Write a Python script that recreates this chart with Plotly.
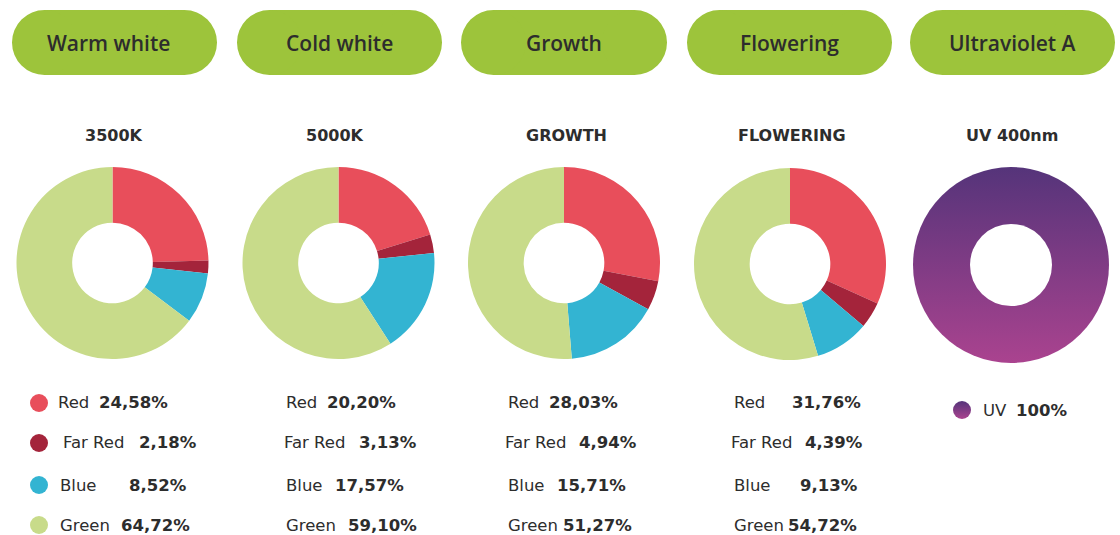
import plotly.graph_objects as go

# ---------------- data ----------------
headers = ["Warm white", "Cold white", "Growth", "Flowering", "Ultraviolet A"]
titles = ["3500K", "5000K", "GROWTH", "FLOWERING", "UV 400nm"]
bands = ["Red", "Far Red", "Blue", "Green"]
warm_white = [24.58, 2.18, 8.52, 64.72]
cold_white = [20.20, 3.13, 17.57, 59.10]
growth = [28.03, 4.94, 15.71, 51.27]
flowering = [31.76, 4.39, 9.13, 54.72]
uv_label = "UV"
uv_value = [100]

# ---------------- styles ----------------
W, H = 1120, 535
band_colors = ["#e84e5b", "#a4243b", "#33b4d2", "#c8db8a"]
uv_top, uv_bottom = "#55347a", "#aa438f"
pill_color = "#9dc43b"
txt = "#2d2d2d"
HEAD_FONT = "Open Sans"
TITLE_FONT = "DejaVu Sans"
LEG_FONT = "DejaVu Sans"

def px(x):
    return x / W

def py(y):
    return 1 - y / H

fig = go.Figure()

# pixel-coordinate axes spanning the whole canvas
fig.update_layout(
    xaxis=dict(range=[0, W], visible=False, fixedrange=True, domain=[0, 1]),
    yaxis=dict(range=[H, 0], visible=False, fixedrange=True, domain=[0, 1]),
)

# header pills
pill_x = [(12, 217), (237, 442), (461, 667), (687, 892), (910, 1115)]
pill_y0, pill_y1 = 10, 75
r = (pill_y1 - pill_y0) / 2
shapes = []
for (x0, x1) in pill_x:
    shapes.append(dict(type="rect", xref="x", yref="y", x0=x0 + r, x1=x1 - r,
                       y0=pill_y0, y1=pill_y1, fillcolor=pill_color,
                       line=dict(width=0), layer="below"))
    shapes.append(dict(type="circle", xref="x", yref="y", x0=x0, x1=x0 + 2 * r,
                       y0=pill_y0, y1=pill_y1, fillcolor=pill_color,
                       line=dict(width=0), layer="below"))
    shapes.append(dict(type="circle", xref="x", yref="y", x0=x1 - 2 * r, x1=x1,
                       y0=pill_y0, y1=pill_y1, fillcolor=pill_color,
                       line=dict(width=0), layer="below"))
fig.update_layout(shapes=shapes)

annotations = []
head_x = [108.5, 339.5, 564, 789.5, 1012.5]
for hx, lab in zip(head_x, headers):
    annotations.append(dict(x=hx, y=43, xref="x", yref="y", text=lab,
                            showarrow=False, xanchor="center", yanchor="middle",
                            font=dict(family=HEAD_FONT, size=21, color=txt, weight=600)))

# titles
title_x = [114, 335, 566, 792, 1012]
for tx, t in zip(title_x, titles):
    annotations.append(dict(x=tx, y=135, xref="x", yref="y", text=f"<b>{t}</b>",
                            showarrow=False, xanchor="center", yanchor="middle",
                            font=dict(family=TITLE_FONT, size=16, color=txt)))

# donuts
series = [warm_white, cold_white, growth, flowering]
centers = [(112.5, 263), (338.5, 263), (564, 263), (790, 264)]
R = 96
for vals, (cx, cy), name in zip(series, centers, titles):
    fig.add_trace(go.Pie(
        labels=bands, values=vals, sort=False, direction="clockwise", rotation=0,
        hole=0.42, marker=dict(colors=band_colors, line=dict(width=0)),
        textinfo="none", showlegend=False, name=name,
        domain=dict(x=[px(cx - R), px(cx + R)], y=[py(cy + R), py(cy - R)]),
    ))

# UV ring (100%) drawn as a vertically graded disc with a hole
uv_cx, uv_cy, uv_R, uv_r = 1011, 265, 98, 41
fig.add_trace(go.Scatter(
    x=[uv_cx], y=[uv_cy], mode="markers", showlegend=False, hoverinfo="skip",
    marker=dict(size=2 * uv_R, color=uv_top, line=dict(width=0),
                gradient=dict(type="vertical", color=uv_bottom)),
))
fig.add_trace(go.Scatter(
    x=[uv_cx], y=[uv_cy], mode="markers", showlegend=False, hoverinfo="skip",
    marker=dict(size=2 * uv_r, color="white", line=dict(width=0)),
    text=[f"{uv_label} {uv_value[0]}%"],
))

# legend rows
row_y = [402, 442, 485, 525]
label_x = [[56, 61, 58, 58], [284, 282, 284, 284], [506, 503, 506, 506], [732, 729, 732, 732]]
value_x = [[97, 137, 127, 119], [325, 357, 333, 346], [547, 577, 555, 561], [790, 803, 798, 786]]

def fmt(v):
    return f"{v:.2f}".replace(".", ",") + "%"

for ci, vals in enumerate(series):
    for ri, (b, v) in enumerate(zip(bands, vals)):
        annotations.append(dict(x=label_x[ci][ri], y=row_y[ri], xref="x", yref="y", text=b,
                                showarrow=False, xanchor="left", yanchor="middle",
                                font=dict(family=LEG_FONT, size=16.5, color=txt)))
        annotations.append(dict(x=value_x[ci][ri], y=row_y[ri], xref="x", yref="y",
                                text=f"<b>{fmt(v)}</b>",
                                showarrow=False, xanchor="left", yanchor="middle",
                                font=dict(family=LEG_FONT, size=16.5, color=txt)))

# legend dots for first column
fig.add_trace(go.Scatter(
    x=[39] * 4, y=[403, 443, 485, 525], mode="markers", showlegend=False, hoverinfo="skip",
    marker=dict(size=18, color=band_colors, line=dict(width=0)),
))
# UV legend dot
fig.add_trace(go.Scatter(
    x=[962], y=[410], mode="markers", showlegend=False, hoverinfo="skip",
    marker=dict(size=18, color=uv_top, line=dict(width=0),
                gradient=dict(type="vertical", color=uv_bottom)),
))
annotations.append(dict(x=981, y=410, xref="x", yref="y", text=uv_label,
                        showarrow=False, xanchor="left", yanchor="middle",
                        font=dict(family=LEG_FONT, size=16.5, color=txt)))
annotations.append(dict(x=1014, y=410, xref="x", yref="y", text=f"<b>{uv_value[0]}%</b>",
                        showarrow=False, xanchor="left", yanchor="middle",
                        font=dict(family=LEG_FONT, size=16.5, color=txt)))

fig.update_layout(
    width=W, height=H, margin=dict(l=0, r=0, t=0, b=0),
    paper_bgcolor="white", plot_bgcolor="white",
    annotations=annotations, showlegend=False,
)

fig.write_html("out.html", config={"displayModeBar": False},
               post_script="document.body.style.margin='0';")
